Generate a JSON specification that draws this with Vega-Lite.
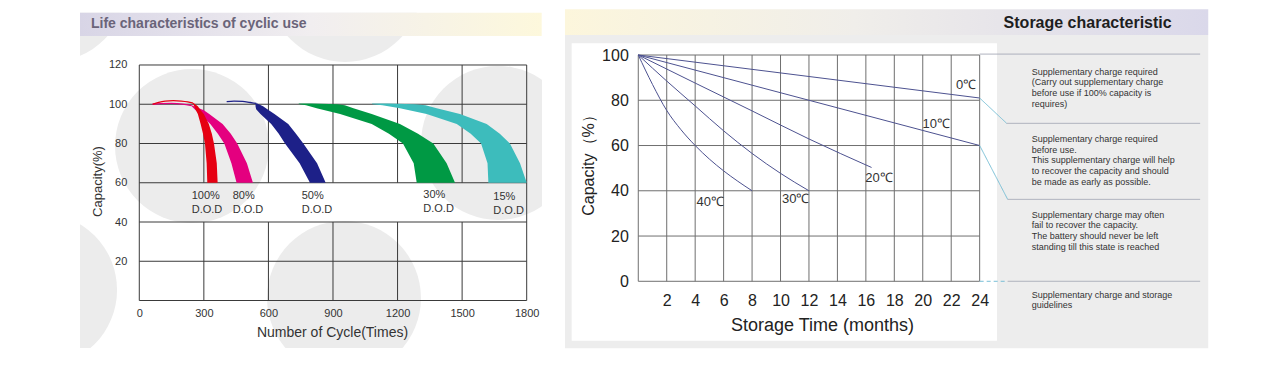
{
  "$schema": "https://vega.github.io/schema/vega-lite/v6.json",
  "width": 1268,
  "height": 375,
  "padding": 0,
  "autosize": {"type": "none"},
  "background": "white",
  "config": {"view": {"stroke": null}, "font": "Liberation Sans"},
  "datasets": {
    "circles": [
      {"c": 244.9, "v": 78.7}, {"c": 955.8, "v": 160.8}, {"c": 951.1, "v": 1.3},
      {"c": 1666.7, "v": 80.3}, {"c": -461, "v": 5.4}, {"c": -414.5, "v": 160.8}
    ],
    "lgrid": [
      {"c": 0, "c2": 1800, "v": 0, "v2": 0}, {"c": 0, "c2": 1800, "v": 20, "v2": 20},
      {"c": 0, "c2": 1800, "v": 40, "v2": 40}, {"c": 0, "c2": 1800, "v": 60, "v2": 60},
      {"c": 0, "c2": 1800, "v": 80, "v2": 80}, {"c": 0, "c2": 1800, "v": 100, "v2": 100},
      {"c": 0, "c2": 1800, "v": 120, "v2": 120},
      {"c": 0, "c2": 0, "v": 0, "v2": 120}, {"c": 1800, "c2": 1800, "v": 0, "v2": 120},
      {"c": 300, "c2": 300, "v": 0, "v2": 40}, {"c": 300, "c2": 300, "v": 60, "v2": 120},
      {"c": 600, "c2": 600, "v": 0, "v2": 40}, {"c": 600, "c2": 600, "v": 60, "v2": 120},
      {"c": 900, "c2": 900, "v": 0, "v2": 40}, {"c": 900, "c2": 900, "v": 60, "v2": 120},
      {"c": 1200, "c2": 1200, "v": 0, "v2": 40}, {"c": 1200, "c2": 1200, "v": 60, "v2": 120},
      {"c": 1500, "c2": 1500, "v": 0, "v2": 40}, {"c": 1500, "c2": 1500, "v": 60, "v2": 120}
    ],
    "bands": [
      {"band": "80%", "v": 99.3, "lo": 240, "hi": 246}, {"band": "80%", "v": 97, "lo": 262, "hi": 300},
      {"band": "80%", "v": 95, "lo": 280, "hi": 325}, {"band": "80%", "v": 90, "lo": 330, "hi": 387},
      {"band": "80%", "v": 85, "lo": 365, "hi": 425}, {"band": "80%", "v": 80, "lo": 395, "hi": 455},
      {"band": "80%", "v": 70, "lo": 428, "hi": 500}, {"band": "80%", "v": 60, "lo": 452, "hi": 528},
      {"band": "100%", "v": 100.6, "lo": 248, "hi": 252}, {"band": "100%", "v": 99, "lo": 255, "hi": 272},
      {"band": "100%", "v": 97, "lo": 263, "hi": 285}, {"band": "100%", "v": 95, "lo": 272, "hi": 300},
      {"band": "100%", "v": 90, "lo": 285, "hi": 323}, {"band": "100%", "v": 85, "lo": 296, "hi": 337},
      {"band": "100%", "v": 80, "lo": 305, "hi": 347}, {"band": "100%", "v": 70, "lo": 313, "hi": 360},
      {"band": "100%", "v": 60, "lo": 316, "hi": 364},
      {"band": "50%", "v": 100.4, "lo": 540, "hi": 548}, {"band": "50%", "v": 99, "lo": 540, "hi": 575},
      {"band": "50%", "v": 97.5, "lo": 543, "hi": 595}, {"band": "50%", "v": 95, "lo": 563, "hi": 628},
      {"band": "50%", "v": 90, "lo": 613, "hi": 692}, {"band": "50%", "v": 85, "lo": 648, "hi": 728},
      {"band": "50%", "v": 80, "lo": 677, "hi": 762}, {"band": "50%", "v": 70, "lo": 745, "hi": 826},
      {"band": "50%", "v": 60, "lo": 793, "hi": 866},
      {"band": "30%", "v": 100.4, "lo": 739, "hi": 800}, {"band": "30%", "v": 100, "lo": 745, "hi": 920},
      {"band": "30%", "v": 99.5, "lo": 775, "hi": 955}, {"band": "30%", "v": 98, "lo": 824, "hi": 995},
      {"band": "30%", "v": 95, "lo": 933, "hi": 1080}, {"band": "30%", "v": 90, "lo": 1080, "hi": 1211},
      {"band": "30%", "v": 85, "lo": 1160, "hi": 1295}, {"band": "30%", "v": 80, "lo": 1225, "hi": 1366},
      {"band": "30%", "v": 70, "lo": 1275, "hi": 1428}, {"band": "30%", "v": 60, "lo": 1289, "hi": 1467},
      {"band": "15%", "v": 100.4, "lo": 1080, "hi": 1150}, {"band": "15%", "v": 100, "lo": 1085, "hi": 1280},
      {"band": "15%", "v": 99.5, "lo": 1130, "hi": 1330}, {"band": "15%", "v": 98, "lo": 1211, "hi": 1382},
      {"band": "15%", "v": 95, "lo": 1335, "hi": 1490}, {"band": "15%", "v": 90, "lo": 1475, "hi": 1614},
      {"band": "15%", "v": 85, "lo": 1540, "hi": 1675}, {"band": "15%", "v": 80, "lo": 1588, "hi": 1722},
      {"band": "15%", "v": 70, "lo": 1618, "hi": 1769}, {"band": "15%", "v": 60, "lo": 1622, "hi": 1800}
    ],
    "arcs": [
      {"band": "80%", "c": 62, "v": 100}, {"band": "80%", "c": 100, "v": 100.3}, {"band": "80%", "c": 150, "v": 100.4},
      {"band": "80%", "c": 200, "v": 100.1}, {"band": "80%", "c": 243, "v": 99.3},
      {"band": "100%", "c": 62, "v": 100}, {"band": "100%", "c": 90, "v": 101}, {"band": "100%", "c": 120, "v": 101.6},
      {"band": "100%", "c": 158, "v": 101.8}, {"band": "100%", "c": 195, "v": 101.6}, {"band": "100%", "c": 225, "v": 101.2},
      {"band": "100%", "c": 250, "v": 100.6},
      {"band": "50%", "c": 406, "v": 101.3}, {"band": "50%", "c": 440, "v": 101.6}, {"band": "50%", "c": 480, "v": 101.5},
      {"band": "50%", "c": 515, "v": 100.9}, {"band": "50%", "c": 544, "v": 100.4}
    ],
    "dod": [
      {"c": 243.5, "v": 56.3, "t": "100%\nD.O.D"}, {"c": 434, "v": 56.3, "t": "80%\nD.O.D"},
      {"c": 754.6, "v": 56.3, "t": "50%\nD.O.D"}, {"c": 1319.6, "v": 56.7, "t": "30%\nD.O.D"},
      {"c": 1645, "v": 55.9, "t": "15%\nD.O.D"}
    ],
    "rgrid": [
      {"m": 0, "m2": 24, "p": 0, "p2": 0}, {"m": 0, "m2": 24, "p": 20, "p2": 20}, {"m": 0, "m2": 24, "p": 40, "p2": 40},
      {"m": 0, "m2": 24, "p": 60, "p2": 60}, {"m": 0, "m2": 24, "p": 80, "p2": 80}, {"m": 0, "m2": 24, "p": 100, "p2": 100},
      {"m": 0, "m2": 0, "p": 0, "p2": 100}, {"m": 2, "m2": 2, "p": 0, "p2": 100}, {"m": 4, "m2": 4, "p": 0, "p2": 100},
      {"m": 6, "m2": 6, "p": 0, "p2": 100}, {"m": 8, "m2": 8, "p": 0, "p2": 100}, {"m": 10, "m2": 10, "p": 0, "p2": 100},
      {"m": 12, "m2": 12, "p": 0, "p2": 100}, {"m": 14, "m2": 14, "p": 0, "p2": 100}, {"m": 16, "m2": 16, "p": 0, "p2": 100},
      {"m": 18, "m2": 18, "p": 0, "p2": 100}, {"m": 20, "m2": 20, "p": 0, "p2": 100}, {"m": 22, "m2": 22, "p": 0, "p2": 100},
      {"m": 24, "m2": 24, "p": 0, "p2": 100}
    ],
    "curves": [
      {"temp": "0", "m": 0, "p": 100}, {"temp": "0", "m": 24, "p": 81},
      {"temp": "10", "m": 0, "p": 100}, {"temp": "10", "m": 24, "p": 60},
      {"temp": "20", "m": 0, "p": 100}, {"temp": "20", "m": 4, "p": 87.6}, {"temp": "20", "m": 8, "p": 75.3},
      {"temp": "20", "m": 12, "p": 62.9}, {"temp": "20", "m": 16.4, "p": 50.3},
      {"temp": "30", "m": 0, "p": 100}, {"temp": "30", "m": 2, "p": 88.5}, {"temp": "30", "m": 4, "p": 77.5},
      {"temp": "30", "m": 6, "p": 66.5}, {"temp": "30", "m": 8, "p": 56.5}, {"temp": "30", "m": 10, "p": 47.7},
      {"temp": "30", "m": 12, "p": 40},
      {"temp": "40", "m": 0, "p": 100}, {"temp": "40", "m": 1, "p": 87}, {"temp": "40", "m": 2, "p": 75.5},
      {"temp": "40", "m": 3, "p": 67}, {"temp": "40", "m": 4, "p": 60}, {"temp": "40", "m": 5, "p": 54},
      {"temp": "40", "m": 6, "p": 48.8}, {"temp": "40", "m": 7, "p": 44.2}, {"temp": "40", "m": 8, "p": 40}
    ],
    "temps": [
      {"m": 23.04, "p": 86.6, "t": "0℃"}, {"m": 20.95, "p": 69.5, "t": "10℃"}, {"m": 16.92, "p": 45.5, "t": "20℃"},
      {"m": 11.07, "p": 36.2, "t": "30℃"}, {"m": 5.06, "p": 34.9, "t": "40℃"}
    ],
    "guides": [
      {"m": 24, "m2": 39.5, "p": 100.4, "p2": 100.4, "k": "gray"},
      {"m": 24, "m2": 25.9, "p": 81, "p2": 69.8, "k": "blue"},
      {"m": 25.9, "m2": 39.5, "p": 69.8, "p2": 69.8, "k": "gray"},
      {"m": 24, "m2": 25.97, "p": 60, "p2": 36.2, "k": "blue"},
      {"m": 25.97, "m2": 39.5, "p": 36.2, "p2": 36.2, "k": "gray"},
      {"m": 24, "m2": 25.97, "p": 0, "p2": 0, "k": "dash"},
      {"m": 25.97, "m2": 39.5, "p": 0, "p2": 0, "k": "gray"}
    ],
    "notes": [
      {"m": 27.66, "p": 94.4, "t": "Supplementary charge required\n(Carry out supplementary charge\nbefore use if 100% capacity is\nrequires)"},
      {"m": 27.66, "p": 64.65, "t": "Supplementary charge required\nbefore use.\nThis supplementary charge will help\nto recover the capacity and should\nbe made  as early as possible."},
      {"m": 27.66, "p": 31.2, "t": "Supplementary charge may often\nfail to recover the capacity.\nThe battery should never be left\nstanding till this state is reached"},
      {"m": 27.66, "p": -4.15, "t": "Supplementary charge and storage\nguidelines"}
    ]
  },
  "layer": [
    {
      "data": {"name": "circles"},
      "mark": {"type": "circle", "size": 23700, "color": "#ececec", "opacity": 1, "strokeWidth": 0},
      "encoding": {
        "x": {"field": "c", "type": "quantitative", "axis": null, "scale": {"domain": [-647.2, 5244.4], "nice": false, "zero": false}},
        "y": {"field": "v", "type": "quantitative", "axis": null, "scale": {"domain": [-37.96, 153.12], "nice": false, "zero": false}}
      }
    },
    {
      "data": {"values": [{}]},
      "mark": {"type": "rect", "color": "white"},
      "encoding": {
        "x": {"datum": -700, "type": "quantitative", "axis": null, "scale": {"domain": [-647.2, 5244.4], "nice": false, "zero": false}}, "x2": {"datum": -275.5},
        "y": {"datum": -40, "type": "quantitative", "axis": null, "scale": {"domain": [-37.96, 153.12], "nice": false, "zero": false}}, "y2": {"datum": 160}
      }
    },
    {
      "data": {"values": [{}]},
      "mark": {"type": "rect", "color": "white"},
      "encoding": {
        "x": {"datum": -700, "type": "quantitative", "axis": null, "scale": {"domain": [-647.2, 5244.4], "nice": false, "zero": false}}, "x2": {"datum": 2000},
        "y": {"datum": 146.65, "type": "quantitative", "axis": null, "scale": {"domain": [-37.96, 153.12], "nice": false, "zero": false}}, "y2": {"datum": 160}
      }
    },
    {
      "data": {"values": [{}]},
      "mark": {"type": "rect", "color": "white"},
      "encoding": {
        "x": {"datum": -700, "type": "quantitative", "axis": null, "scale": {"domain": [-647.2, 5244.4], "nice": false, "zero": false}}, "x2": {"datum": 2000},
        "y": {"datum": -40, "type": "quantitative", "axis": null, "scale": {"domain": [-37.96, 153.12], "nice": false, "zero": false}}, "y2": {"datum": -24.2}
      }
    },
    {
      "data": {"values": [{}]},
      "mark": {"type": "rect", "color": "white"},
      "encoding": {
        "x": {"datum": 1871, "type": "quantitative", "axis": null, "scale": {"domain": [-647.2, 5244.4], "nice": false, "zero": false}}, "x2": {"datum": 1985},
        "y": {"datum": -40, "type": "quantitative", "axis": null, "scale": {"domain": [-37.96, 153.12], "nice": false, "zero": false}}, "y2": {"datum": 160}
      }
    },
    {
      "data": {"values": [{}]},
      "mark": {"type": "rect", "fill": {"x1": 0, "y1": 0, "x2": 1, "y2": 0, "gradient": "linear", "stops": [{"offset": 0, "color": "#d8d5e6"}, {"offset": 0.5, "color": "#f1eef0"}, {"offset": 1, "color": "#fdf8dc"}]}},
      "encoding": {
        "x": {"datum": -275.5, "type": "quantitative", "axis": null, "scale": {"domain": [-647.2, 5244.4], "nice": false, "zero": false}}, "x2": {"datum": 1869.7},
        "y": {"datum": 134.78, "type": "quantitative", "axis": null, "scale": {"domain": [-37.96, 153.12], "nice": false, "zero": false}}, "y2": {"datum": 146.65}
      }
    },
    {
      "data": {"values": [{}]},
      "mark": {"type": "text", "text": "Life characteristics of cyclic use", "align": "left", "baseline": "middle", "fontSize": 14, "fontWeight": "bold", "color": "#6a6479"},
      "encoding": {
        "x": {"datum": -224.4, "type": "quantitative", "axis": null, "scale": {"domain": [-647.2, 5244.4], "nice": false, "zero": false}},
        "y": {"datum": 140.9, "type": "quantitative", "axis": null, "scale": {"domain": [-37.96, 153.12], "nice": false, "zero": false}}
      }
    },
    {
      "data": {"name": "lgrid"},
      "mark": {"type": "rule", "color": "#3a3a3a", "strokeWidth": 1},
      "encoding": {
        "x": {"field": "c", "type": "quantitative", "scale": {"domain": [-647.2, 5244.4], "nice": false, "zero": false},
          "axis": {"orient": "bottom", "offset": -74.5, "values": [0, 300, 600, 900, 1200, 1500, 1800], "format": "d", "domain": false, "ticks": false, "grid": false,
            "labelFontSize": 11, "labelColor": "#333333", "labelPadding": 6.5, "labelFlush": false, "labelOverlap": false,
            "title": "Number of Cycle(Times)", "titleFontSize": 14, "titleFontWeight": "normal", "titleColor": "#333333",
            "titleX": 332, "titleY": 31.5, "titleBaseline": "middle", "titleAlign": "center", "zindex": 1}},
        "x2": {"field": "c2"},
        "y": {"field": "v", "type": "quantitative", "scale": {"domain": [-37.96, 153.12], "nice": false, "zero": false},
          "axis": {"orient": "left", "offset": -139.3, "values": [20, 40, 60, 80, 100, 120], "format": "d", "domain": false, "ticks": false, "grid": false,
            "labelFontSize": 11, "labelColor": "#333333", "labelPadding": 12.5, "labelOverlap": false,
            "title": "Capacity(%)", "titleFontSize": 13, "titleFontWeight": "normal", "titleColor": "#333333",
            "titleX": -42.3, "titleY": 181, "titleAngle": -90, "titleBaseline": "middle", "titleAlign": "center", "zindex": 1}},
        "y2": {"field": "v2"}
      }
    },
    {
      "data": {"name": "bands"},
      "mark": {"type": "area", "orient": "horizontal", "opacity": 1},
      "encoding": {
        "y": {"field": "v", "type": "quantitative", "axis": null, "scale": {"domain": [-37.96, 153.12], "nice": false, "zero": false}},
        "x": {"field": "lo", "type": "quantitative", "axis": null, "stack": null, "scale": {"domain": [-647.2, 5244.4], "nice": false, "zero": false}},
        "x2": {"field": "hi"},
        "color": {"field": "band", "type": "nominal", "legend": null,
          "scale": {"domain": ["80%", "100%", "50%", "30%", "15%"], "range": ["#e4007f", "#e60012", "#1d2088", "#009944", "#3dbcbc"]}}
      }
    },
    {
      "data": {"name": "arcs"},
      "mark": {"type": "line", "strokeWidth": 1.3, "interpolate": "monotone"},
      "encoding": {
        "x": {"field": "c", "type": "quantitative", "axis": null, "scale": {"domain": [-647.2, 5244.4], "nice": false, "zero": false}},
        "y": {"field": "v", "type": "quantitative", "axis": null, "scale": {"domain": [-37.96, 153.12], "nice": false, "zero": false}},
        "color": {"field": "band", "type": "nominal", "legend": null,
          "scale": {"domain": ["80%", "100%", "50%", "30%", "15%"], "range": ["#e4007f", "#e60012", "#1d2088", "#009944", "#3dbcbc"]}}
      }
    },
    {
      "data": {"name": "dod"},
      "mark": {"type": "text", "align": "left", "baseline": "top", "fontSize": 11, "lineHeight": 14, "lineBreak": "\n", "color": "#333333"},
      "encoding": {
        "x": {"field": "c", "type": "quantitative", "axis": null, "scale": {"domain": [-647.2, 5244.4], "nice": false, "zero": false}},
        "y": {"field": "v", "type": "quantitative", "axis": null, "scale": {"domain": [-37.96, 153.12], "nice": false, "zero": false}},
        "text": {"field": "t"}
      }
    },
    {
      "data": {"values": [{}]},
      "mark": {"type": "rect", "color": "#ededed"},
      "encoding": {
        "x": {"datum": -5.153, "type": "quantitative", "axis": null, "scale": {"domain": [-44.872, 44.271], "nice": false, "zero": false}}, "x2": {"datum": 40.07},
        "y": {"datum": -29.6, "type": "quantitative", "axis": null, "scale": {"domain": [-41.41, 124.31], "nice": false, "zero": false}}, "y2": {"datum": 108.84}
      }
    },
    {
      "data": {"values": [{}]},
      "mark": {"type": "rect", "fill": {"x1": 0, "y1": 0, "x2": 1, "y2": 0, "gradient": "linear", "stops": [{"offset": 0, "color": "#fcf6dc"}, {"offset": 0.45, "color": "#f0eeea"}, {"offset": 1, "color": "#dad8ea"}]}},
      "encoding": {
        "x": {"datum": -5.153, "type": "quantitative", "axis": null, "scale": {"domain": [-44.872, 44.271], "nice": false, "zero": false}}, "x2": {"datum": 40.07},
        "y": {"datum": 108.84, "type": "quantitative", "axis": null, "scale": {"domain": [-41.41, 124.31], "nice": false, "zero": false}}, "y2": {"datum": 120.2}
      }
    },
    {
      "data": {"values": [{}]},
      "mark": {"type": "rect", "color": "white"},
      "encoding": {
        "x": {"datum": -4.682, "type": "quantitative", "axis": null, "scale": {"domain": [-44.872, 44.271], "nice": false, "zero": false}}, "x2": {"datum": 25.216},
        "y": {"datum": -26.25, "type": "quantitative", "axis": null, "scale": {"domain": [-41.41, 124.31], "nice": false, "zero": false}}, "y2": {"datum": 105.17}
      }
    },
    {
      "data": {"values": [{}]},
      "mark": {"type": "text", "text": "Storage characteristic", "align": "right", "baseline": "middle", "fontSize": 16, "fontWeight": "bold", "color": "#1e1e1e"},
      "encoding": {
        "x": {"datum": 37.5, "type": "quantitative", "axis": null, "scale": {"domain": [-44.872, 44.271], "nice": false, "zero": false}},
        "y": {"datum": 114.27, "type": "quantitative", "axis": null, "scale": {"domain": [-41.41, 124.31], "nice": false, "zero": false}}
      }
    },
    {
      "data": {"name": "rgrid"},
      "mark": {"type": "rule", "color": "#6f6f6f", "strokeWidth": 1},
      "encoding": {
        "x": {"field": "m", "type": "quantitative", "scale": {"domain": [-44.872, 44.271], "nice": false, "zero": false},
          "axis": {"orient": "bottom", "offset": -93.7, "values": [2, 4, 6, 8, 10, 12, 14, 16, 18, 20, 22, 24], "format": "d", "domain": false, "ticks": false, "grid": false,
            "labelFontSize": 16, "labelColor": "#222222", "labelPadding": 11, "labelFlush": false, "labelOverlap": false,
            "title": "Storage Time (months)", "titleFontSize": 18, "titleFontWeight": "normal", "titleColor": "#222222",
            "titleX": 822, "titleY": 43.7, "titleBaseline": "middle", "titleAlign": "center", "zindex": 1}},
        "x2": {"field": "m2"},
        "y": {"field": "p", "type": "quantitative", "scale": {"domain": [-41.41, 124.31], "nice": false, "zero": false},
          "axis": {"orient": "left", "offset": -638.3, "values": [0, 20, 40, 60, 80, 100], "format": "d", "domain": false, "ticks": false, "grid": false,
            "labelFontSize": 16, "labelColor": "#222222", "labelPadding": 10, "labelOverlap": false,
            "title": "Capacity（%）", "titleFontSize": 16, "titleFontWeight": "normal", "titleColor": "#222222",
            "titleX": -50, "titleY": 161, "titleAngle": -90, "titleBaseline": "middle", "titleAlign": "center", "zindex": 1}},
        "y2": {"field": "p2"}
      }
    },
    {
      "data": {"name": "curves"},
      "mark": {"type": "line", "color": "#4d5290", "strokeWidth": 1, "interpolate": "monotone"},
      "encoding": {
        "x": {"field": "m", "type": "quantitative", "axis": null, "scale": {"domain": [-44.872, 44.271], "nice": false, "zero": false}},
        "y": {"field": "p", "type": "quantitative", "axis": null, "scale": {"domain": [-41.41, 124.31], "nice": false, "zero": false}},
        "detail": {"field": "temp", "type": "nominal"}
      }
    },
    {
      "data": {"name": "temps"},
      "mark": {"type": "text", "align": "center", "baseline": "middle", "fontSize": 13, "color": "#333333"},
      "encoding": {
        "x": {"field": "m", "type": "quantitative", "axis": null, "scale": {"domain": [-44.872, 44.271], "nice": false, "zero": false}},
        "y": {"field": "p", "type": "quantitative", "axis": null, "scale": {"domain": [-41.41, 124.31], "nice": false, "zero": false}},
        "text": {"field": "t"}
      }
    },
    {
      "data": {"name": "guides"},
      "mark": {"type": "rule", "strokeWidth": 1},
      "encoding": {
        "x": {"field": "m", "type": "quantitative", "axis": null, "scale": {"domain": [-44.872, 44.271], "nice": false, "zero": false}},
        "x2": {"field": "m2"},
        "y": {"field": "p", "type": "quantitative", "axis": null, "scale": {"domain": [-41.41, 124.31], "nice": false, "zero": false}},
        "y2": {"field": "p2"},
        "color": {"field": "k", "type": "nominal", "legend": null, "scale": {"domain": ["gray", "blue", "dash"], "range": ["#a4a8b6", "#78bfd6", "#78bfd6"]}},
        "strokeDash": {"field": "k", "type": "nominal", "legend": null, "scale": {"domain": ["gray", "blue", "dash"], "range": [[1, 0], [1, 0], [4, 3]]}}
      }
    },
    {
      "data": {"name": "notes"},
      "mark": {"type": "text", "align": "left", "baseline": "top", "fontSize": 9, "lineHeight": 10.67, "lineBreak": "\n", "color": "#333333"},
      "encoding": {
        "x": {"field": "m", "type": "quantitative", "axis": null, "scale": {"domain": [-44.872, 44.271], "nice": false, "zero": false}},
        "y": {"field": "p", "type": "quantitative", "axis": null, "scale": {"domain": [-41.41, 124.31], "nice": false, "zero": false}},
        "text": {"field": "t"}
      }
    }
  ],
  "resolve": {"scale": {"x": "independent", "y": "independent", "color": "independent", "strokeDash": "independent"}}
}
